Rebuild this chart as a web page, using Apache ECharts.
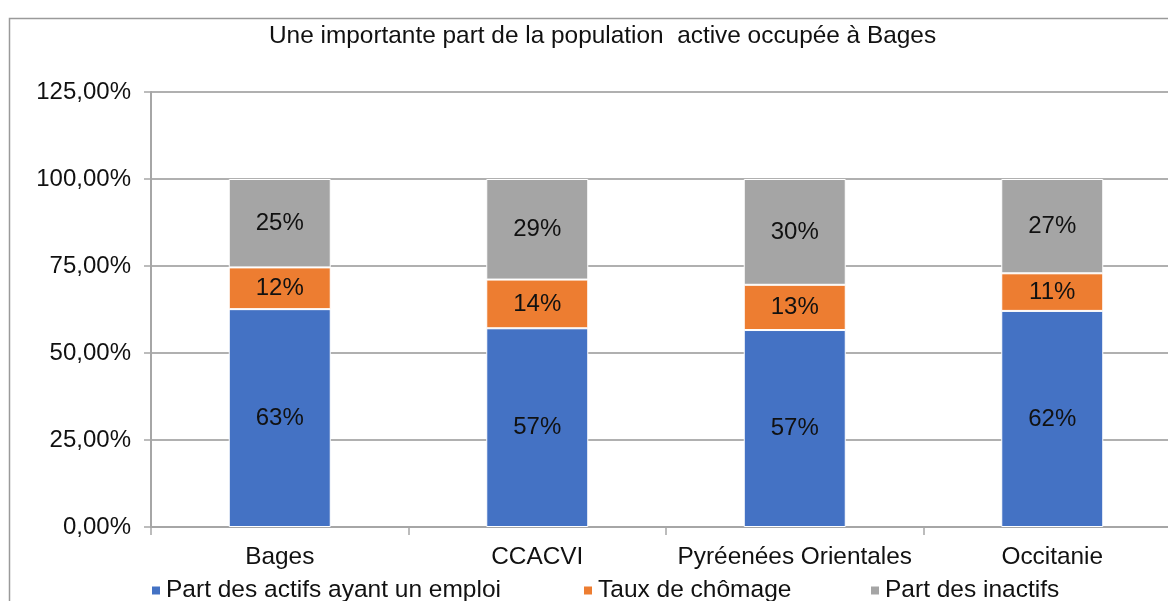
<!DOCTYPE html>
<html>
<head>
<meta charset="utf-8">
<script src="https://cdn.jsdelivr.net/npm/echarts@6/dist/echarts.min.js"></script>
<style>
    html, body { margin: 0; padding: 0; background: #fff; }
    #chart { width: 1168px; height: 601px; }
</style>
</head>
<body>
<div id="chart"></div>
<script>
// values (percent)
const categories = ['Bages', 'CCACVI', 'Pyréenées Orientales', 'Occitanie']
const emploi = [62.6, 57.1, 56.6, 62.1]
const chomage = [12.0, 14.0, 13.0, 10.8]
const inactifs = [25.4, 28.9, 30.4, 27.1]
const seriesNames = ['Part des actifs ayant un emploi', 'Taux de chômage', 'Part des inactifs']
const colors = ['#4472C4', '#ED7D31', '#A5A5A5']

const font = 'Liberation Sans, Arial, sans-serif'

const chart = echarts.init(document.getElementById('chart'))

function barSeries(name, data, color) {
    return {
        name: name,
        type: 'bar',
        stack: 'total',
        barWidth: 102,
        data: data,
        itemStyle: {
            color: color,
            borderColor: '#fff',
            borderWidth: 1
        },
        label: {
            show: true,
            position: 'inside',
            color: '#111',
            fontSize: 24,
            fontFamily: font,
            formatter: p => Math.round(p.value) + '%'
        }
    }
}

function legendAt(name, left) {
    return {
        data: [name],
        left: left,
        top: 578,
        itemWidth: 10,
        itemHeight: 10,
        itemGap: 0,
        padding: 0,
        icon: 'rect',
        textStyle: { fontSize: 24.5, fontFamily: font, color: '#111' }
    }
}

const option = {
    animation: false,
    color: colors,
    title: {
        text: 'Une importante part de la population  active occupée à Bages',
        left: 264,
        top: 19,
        textStyle: { fontSize: 24.4, fontWeight: 'normal', fontFamily: font, color: '#111' }
    },
    graphic: [{
        type: 'rect',
        shape: { x: 9.5, y: 18.5, width: 1300, height: 700 },
        style: { fill: null, stroke: '#9a9a9a', lineWidth: 1.5 },
        silent: true,
        z: -10
    }],
    legend: [
        legendAt(seriesNames[0], 150),
        legendAt(seriesNames[1], 582),
        legendAt(seriesNames[2], 869)
    ],
    grid: {
        left: 151,
        top: 92,
        width: 1030,
        height: 435,
        outerBoundsMode: 'none'
    },
    xAxis: {
        type: 'category',
        data: categories,
        axisLine: { lineStyle: { color: '#a6a6a6', width: 2 } },
        axisTick: { show: true, interval: 0, length: 8, lineStyle: { color: '#a6a6a6', width: 1.5 } },
        axisLabel: { interval: 0, fontSize: 24.4, fontFamily: font, color: '#111', margin: 18 }
    },
    yAxis: {
        type: 'value',
        min: 0,
        max: 125,
        interval: 25,
        axisLine: { show: true, lineStyle: { color: '#a6a6a6', width: 2 } },
        axisTick: { show: true, length: 7, lineStyle: { color: '#a6a6a6', width: 1.5 } },
        splitLine: { lineStyle: { color: '#b0b0b0', width: 2 } },
        axisLabel: {
            fontSize: 24,
            fontFamily: font,
            color: '#111',
            margin: 20,
            formatter: v => v.toFixed(2).replace('.', ',') + '%'
        }
    },
    series: [
        barSeries(seriesNames[0], emploi, colors[0]),
        barSeries(seriesNames[1], chomage, colors[1]),
        barSeries(seriesNames[2], inactifs, colors[2])
    ]
}

chart.setOption(option)
</script>
</body>
</html>
